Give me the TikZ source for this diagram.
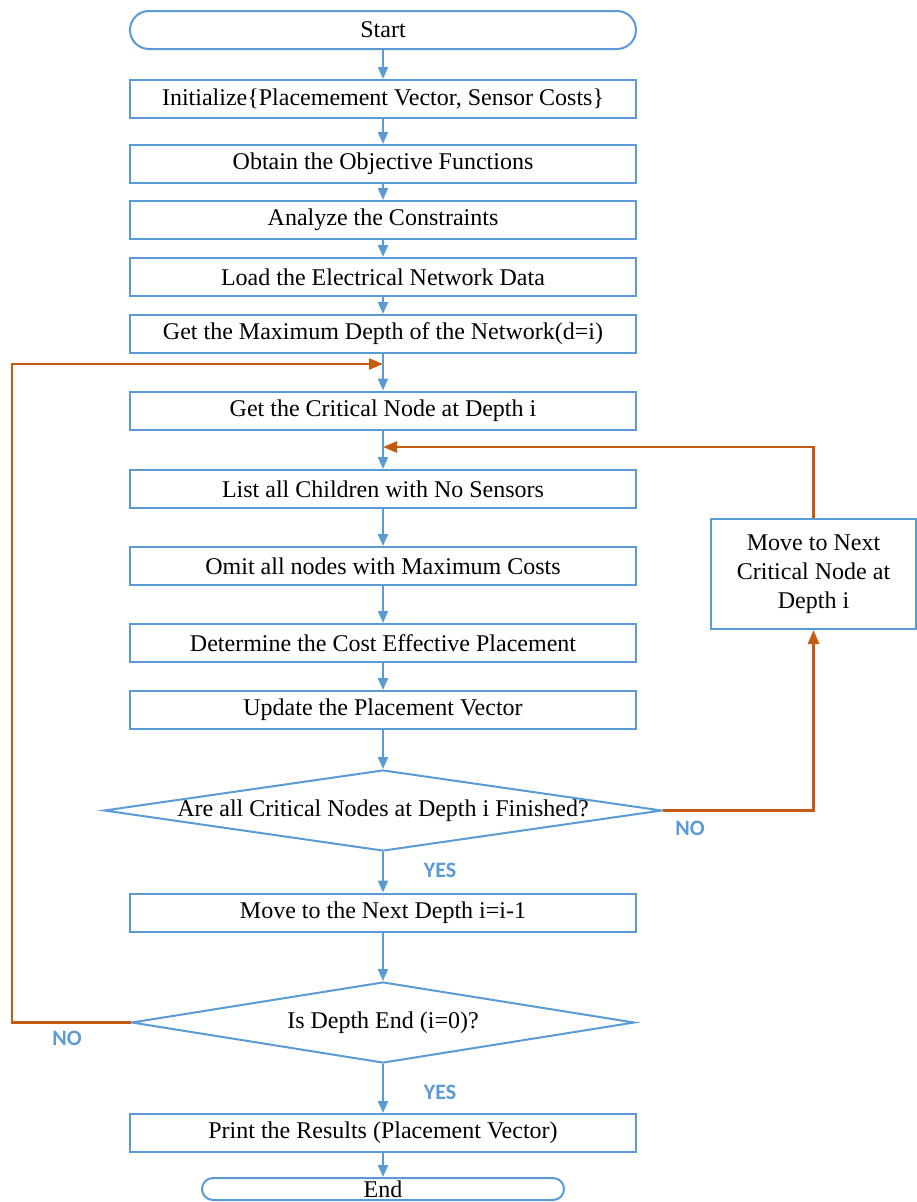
\documentclass[tikz,border=0pt]{standalone}
\usepackage{fontspec}
\setmainfont{Liberation Serif}
\newfontfamily\lblfont{Carlito}
\usepackage{tikz}
\usetikzlibrary{positioning,shapes.geometric,arrows.meta}
\definecolor{flowblue}{HTML}{5B9BD5}
\definecolor{loopor}{HTML}{C55A11}

\begin{document}
\begin{tikzpicture}[x=1pt,y=-1pt,font=\fontsize{24}{29}\selectfont,
     stepbox/.style={draw=flowblue,line width=2pt,minimum width=506pt,minimum height=38pt,inner sep=0pt},
     term/.style={stepbox,rounded corners=19pt},
     dia/.style={draw=flowblue,line width=2pt,diamond,inner sep=0pt,minimum width=#1,minimum height=81pt},
     yn/.style={text=flowblue,font=\lblfont\fontsize{22}{24}\selectfont\bfseries},
     flow/.style={draw=flowblue,line width=2pt,-{Triangle[length=12pt,width=10pt]}},
     back/.style={draw=loopor,line width=2.6pt,-{Triangle[length=14pt,width=11pt]}}]
    \useasboundingbox (0,0) rectangle (917,1202);
    \node[term](st) at (383,30){Start};
    \node[stepbox](b1) at (383,99){Initialize\{Placemement Vector, Sensor Costs\}};
    \node[stepbox](b2) at (383,164){Obtain the Objective Functions};
    \node[stepbox](b3) at (383,220){Analyze the Constraints};
    \node[stepbox](b4) at (383,277){Load the Electrical Network Data};
    \node[stepbox](b5) at (383,334){Get the Maximum Depth of the Network(d=i)};
    \node[stepbox](crit) at (383,410.5){Get the Critical Node at Depth i};
    \node[stepbox](lst) at (383,489){List all Children with No Sensors};
    \node[stepbox](omit) at (383,566){Omit all nodes with Maximum Costs};
    \node[stepbox](det) at (383,643){Determine the Cost Effective Placement};
    \node[stepbox](upd) at (383,710){Update the Placement Vector};
    \node[dia=558pt,label=center:{Are all Critical Nodes at Depth i Finished?}](q1) at (383,810.5){};
    \node[stepbox](mv) at (383,912.5){Move to the Next Depth i=i-1};
    \node[dia=503pt,label=center:{Is Depth End (i=0)?}](q2) at (383,1022.5){};
    \node[stepbox](pr) at (383,1133){Print the Results (Placement Vector)};
    \node[term,minimum width=362pt,minimum height=22pt,rounded corners=11pt](en) at (383,1189){End};
    \node[stepbox,minimum width=205pt,minimum height=110pt,align=center](side) at (813.5,574){Move to Next\\Critical Node at\\Depth i};
    % junctions of the loop arrows
    \coordinate (j1) at (383,364); \coordinate (j2) at (383,447); \coordinate (lp) at (12,364);
    \foreach \a/\b in {st/b1,b1/b2,b2/b3,b3/b4,b4/b5,b5/crit,crit/lst,lst/omit,omit/det,det/upd,upd/q1,q1/mv,mv/q2,q2/pr,pr/en}{\draw[flow](\a.south)--(\b.north);}
    \draw[back](q1.east)-|(side.south);
    \draw[back](side.north)|-(j2);
    \draw[back](q2.west)-|(lp)--(j1);
    \node[yn](y1) at (440,870){YES}; \node[yn](n1) at (690,828){NO};
    \node[yn](n2) at (67,1038){NO}; \node[yn](y2) at (440,1092){YES};
  \end{tikzpicture}
\end{document}
